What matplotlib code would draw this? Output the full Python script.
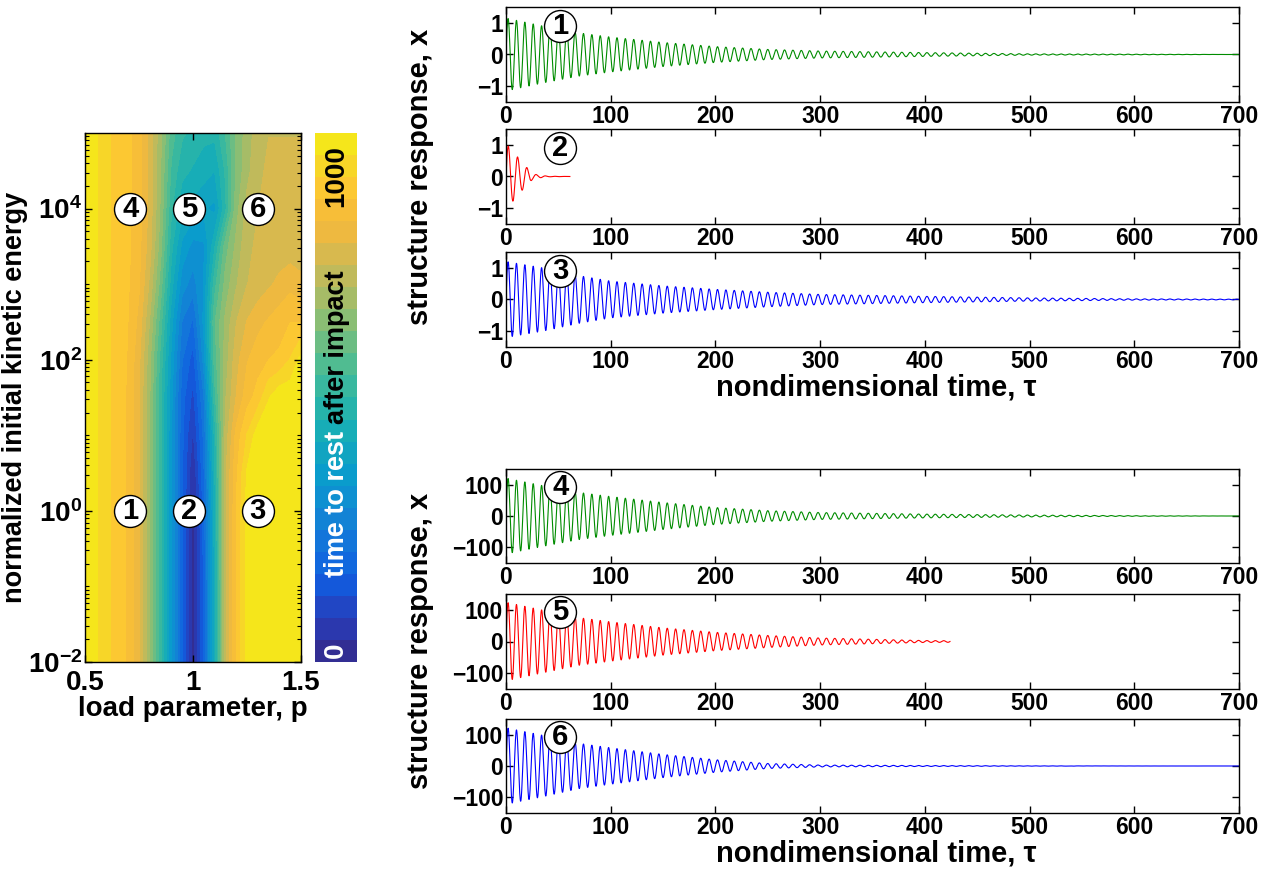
import numpy as np
import matplotlib
matplotlib.use("Agg")
import matplotlib.pyplot as plt
from matplotlib.colors import LinearSegmentedColormap

plt.rcParams['font.family'] = ['Liberation Sans', 'DejaVu Sans']
plt.rcParams['font.weight'] = 'bold'
plt.rcParams['axes.labelweight'] = 'bold'
plt.rcParams['mathtext.fontset'] = 'custom'
plt.rcParams['mathtext.rm'] = 'Liberation Sans:bold'
plt.rcParams['mathtext.bf'] = 'Liberation Sans:bold'
plt.rcParams['mathtext.it'] = 'Liberation Sans:bold'
plt.rcParams['axes.linewidth'] = 1.0

# ---- map data: time to rest after impact ----
load_p = [0.50, 0.55, 0.60, 0.65, 0.70, 0.75, 0.80, 0.85, 0.90, 0.95, 1.00,
          1.05, 1.10, 1.15, 1.20, 1.25, 1.30, 1.35, 1.40, 1.45, 1.50]
log_energy = [-2, -1, 0, 0.5, 1, 1.5, 2, 2.5, 3, 3.5, 4, 4.5, 5]
rest_time = [
    [1080, 1050, 1005, 985, 940, 860, 720, 540, 350, 170, -10, 170, 450, 800, 950, 1060, 1080, 1080, 1080, 1080, 1080],
    [1080, 1050, 1005, 985, 940, 860, 720, 540, 350, 170, -10, 170, 450, 800, 950, 1060, 1080, 1080, 1080, 1080, 1080],
    [1080, 1050, 1005, 985, 940, 860, 720, 540, 350, 170, 0, 180, 460, 800, 950, 1060, 1080, 1080, 1080, 1080, 1080],
    [1080, 1050, 1005, 985, 940, 860, 720, 540, 350, 170, 20, 200, 480, 800, 940, 1050, 1080, 1080, 1080, 1080, 1080],
    [1080, 1050, 1005, 985, 940, 860, 720, 540, 350, 170, 60, 220, 500, 780, 920, 1000, 1070, 1080, 1080, 1080, 1080],
    [1080, 1050, 1005, 985, 940, 860, 720, 540, 360, 180, 100, 250, 560, 760, 860, 930, 970, 1040, 1080, 1080, 1080],
    [1080, 1050, 1005, 985, 945, 870, 730, 560, 380, 210, 140, 320, 600, 740, 840, 900, 930, 950, 960, 1000, 1060],
    [1080, 1050, 1005, 985, 950, 890, 760, 600, 410, 250, 200, 360, 620, 730, 810, 860, 890, 910, 930, 950, 950],
    [1080, 1050, 1005, 985, 955, 910, 800, 650, 460, 320, 280, 350, 560, 690, 760, 810, 830, 850, 870, 890, 870],
    [1080, 1050, 1005, 985, 960, 920, 830, 690, 500, 380, 330, 340, 480, 650, 730, 800, 820, 830, 830, 830, 830],
    [1080, 1050, 1005, 985, 960, 925, 840, 710, 540, 450, 420, 400, 380, 520, 700, 780, 810, 830, 830, 830, 830],
    [1080, 1050, 1005, 985, 960, 925, 840, 720, 570, 500, 480, 460, 440, 540, 680, 750, 800, 820, 820, 820, 820],
    [1080, 1050, 1005, 985, 960, 925, 840, 730, 600, 540, 520, 500, 500, 580, 680, 740, 790, 810, 810, 810, 810],
]

marker_labels = ['1', '2', '3', '4', '5', '6']
marker_p = [0.71, 0.98, 1.30, 0.71, 0.98, 1.30]
marker_loge = [0, 0, 0, 4, 4, 4]

# ---- response time histories (envelope) ----
env_time = [0, 35, 70, 100, 150, 200, 250, 300, 400, 500, 600, 700]
env_1 = [1.15, 0.90, 0.68, 0.55, 0.38, 0.25, 0.16, 0.11, 0.06, 0.02, 0.01, 0.0]
env_3 = [1.20, 1.00, 0.75, 0.58, 0.43, 0.32, 0.23, 0.16, 0.10, 0.05, 0.02, 0.01]
env_4 = [121, 97, 75, 62, 43, 27, 17, 11, 6, 3, 1, 0]
env_5 = [124, 99, 75, 62, 43, 29, 19, 11, 3, 1, 0, 0]
env_6 = [122, 98, 72, 58, 37, 20, 8, 3, 1.5, 0.5, 0.2, 0]
env2_time = [0, 6, 11, 15, 20, 25, 30, 40, 61]
env_2 = [1.05, 0.80, 0.62, 0.45, 0.28, 0.10, 0.05, 0.01, 0.0]

periods = [8.0, 8.9, 8.0, 8.0, 8.0, 8.0]
end_times = [700, 61, 700, 700, 424, 700]
line_colors = [(0, 0.55, 0), (1, 0, 0), (0, 0, 1), (0, 0.55, 0), (1, 0, 0), (0, 0, 1)]

# parula-like colormap
parula = LinearSegmentedColormap.from_list('parula_like', [
    (0.00, (53/255, 42/255, 135/255)),
    (0.08, (40/255, 60/255, 185/255)),
    (0.16, (15/255, 95/255, 225/255)),
    (0.25, (20/255, 125/255, 215/255)),
    (0.35, (10/255, 155/255, 205/255)),
    (0.45, (25/255, 175/255, 180/255)),
    (0.55, (70/255, 188/255, 150/255)),
    (0.65, (140/255, 190/255, 115/255)),
    (0.75, (205/255, 185/255, 85/255)),
    (0.83, (245/255, 185/255, 60/255)),
    (0.90, (252/255, 200/255, 50/255)),
    (0.96, (245/255, 220/255, 35/255)),
    (1.00, (245/255, 240/255, 20/255)),
])

W, H = 1271, 871
fig = plt.figure(figsize=(W / 100, H / 100), dpi=100)


def px_axes(x0, y0, x1, y1):
    return fig.add_axes([x0 / W, 1 - y1 / H, (x1 - x0) / W, (y1 - y0) / H])


# ---- left: contour map ----
ax_map = px_axes(85, 133, 301, 662)
levels = np.linspace(-25, 1090, 25)
cf = ax_map.contourf(load_p, log_energy, np.array(rest_time), levels=levels, cmap=parula)
ax_map.set_xlim(0.5, 1.5)
ax_map.set_ylim(-2, 5)
ax_map.set_xticks([0.5, 1, 1.5])
ax_map.set_xticklabels(['0.5', '1', '1.5'])
ax_map.set_yticks([-2, 0, 2, 4])
ax_map.set_yticklabels([r'$10^{-2}$', r'$10^{0}$', r'$10^{2}$', r'$10^{4}$'])
minor = [n + np.log10(k) for n in range(-2, 5) for k in range(1, 10) if not (k == 1 and n % 2 == 0)]
ax_map.set_yticks(minor, minor=True)
ax_map.tick_params(direction='in', top=True, right=True, length=5, width=1, labelsize=20, pad=2)
ax_map.tick_params(axis='x', pad=6)
ax_map.tick_params(which='minor', direction='in', right=True, length=3, width=0.8)
ax_map.set_xlabel('load parameter, p', fontsize=20, labelpad=0)
ax_map.set_ylabel('normalized initial kinetic energy', fontsize=19.5, labelpad=0)

for lab, xp, yl in zip(marker_labels, marker_p, marker_loge):
    ax_map.plot(xp, yl, 'o', ms=23, mfc='white', mec='black', mew=1.0)
    ax_map.text(xp, yl, lab, ha='center', va='center', fontsize=21, color='black')

# colorbar
cax = px_axes(315, 133, 357, 662)
cb = fig.colorbar(cf, cax=cax)
cb.outline.set_visible(False)
cax.set_yticks([])
cax.text(0.5, 0, '0', transform=cax.get_yaxis_transform(), rotation=90,
         ha='center', va='center', fontsize=20, color='white')
cax.text(0.5, 1000, '1000', transform=cax.get_yaxis_transform(), rotation=90,
         ha='center', va='center', fontsize=20, color='black')
fig.text(337 / W, 1 - 577 / H, 'time to rest ', rotation=90, ha='center', va='bottom',
         fontsize=19.5, color='white')
fig.text(337 / W, 1 - 424 / H, 'after impact', rotation=90, ha='center', va='bottom',
         fontsize=19.5, color='black')

# ---- right: time histories ----
panel_rows = [(7, 102), (129, 224), (252, 347), (469, 563), (594, 689), (719, 813)]
envelopes = [(env_time, env_1), (env2_time, env_2), (env_time, env_3),
             (env_time, env_4), (env_time, env_5), (env_time, env_6)]

for i, (y0, y1) in enumerate(panel_rows):
    ax = px_axes(506, y0, 1239, y1)
    t = np.linspace(0, end_times[i], int(end_times[i] * 20) + 1)
    et, ev = envelopes[i]
    x = np.interp(t, et, ev) * np.sin(2 * np.pi * t / periods[i])
    ax.plot(t, x, color=line_colors[i], lw=0.8)
    ax.set_xlim(0, 700)
    ax.set_xticks(range(0, 701, 100))
    if i < 3:
        ax.set_ylim(-1.5, 1.5)
        ax.set_yticks([-1, 0, 1])
        ym = 0.9
    else:
        ax.set_ylim(-150, 150)
        ax.set_yticks([-100, 0, 100])
        ym = 92
    ax.tick_params(direction='in', top=True, right=True, length=5, width=1, labelsize=16.5, pad=2)
    ax.plot(52, ym, 'o', ms=23, mfc='white', mec='black', mew=1.0, clip_on=False)
    ax.text(52, ym, marker_labels[i], ha='center', va='center', fontsize=21)

fig.text(420 / W, 1 - 177 / H, 'structure response, x', rotation=90, ha='center', va='center', fontsize=21)
fig.text(420 / W, 1 - 641 / H, 'structure response, x', rotation=90, ha='center', va='center', fontsize=21)
fig.text(876 / W, 1 - 387 / H, 'nondimensional time, τ', ha='center', va='center', fontsize=21)
fig.text(876 / W, 1 - 853 / H, 'nondimensional time, τ', ha='center', va='center', fontsize=21)

fig.savefig('out.png', dpi=100)
